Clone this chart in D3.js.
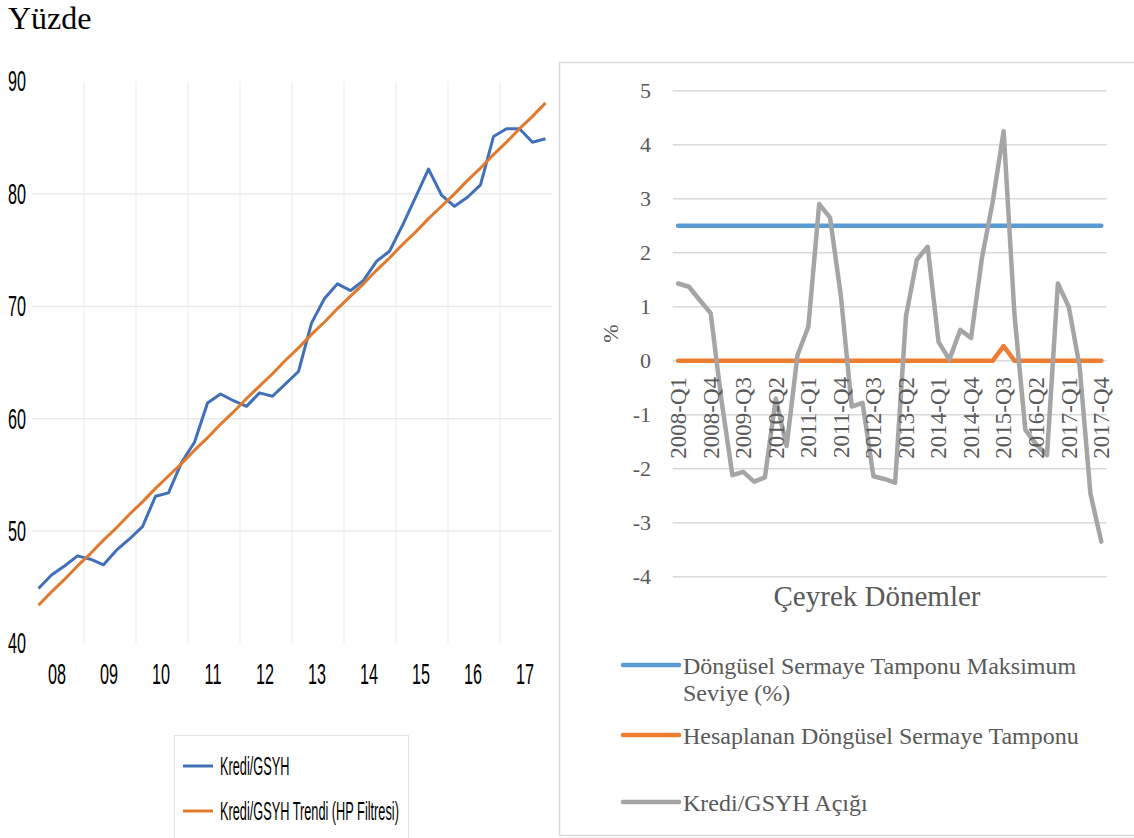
<!DOCTYPE html>
<html>
<head>
<meta charset="utf-8">
<script src="https://cdnjs.cloudflare.com/ajax/libs/d3/7.8.5/d3.min.js"></script>
<style>
  body { margin: 0; background: #fff; }
</style>
</head>
<body>
<div id="chart"></div>
<script>
// categories
var years = ["08", "09", "10", "11", "12", "13", "14", "15", "16", "17"];
var quarters = [];
for (var yr = 2008; yr <= 2017; yr++) {
  for (var q = 1; q <= 4; q++) quarters.push(yr + "-Q" + q);
}

// left panel series
var krediGsyh = [44.9, 46.1, 46.9, 47.8, 47.5, 47.0, 48.3, 49.3, 50.4, 53.1,
  53.4, 56.1, 57.9, 61.4, 62.2, 61.6, 61.1, 62.3, 62.0, 63.1,
  64.2, 68.5, 70.7, 72.0, 71.4, 72.3, 74.0, 74.9, 77.2, 79.7,
  82.2, 79.9, 78.9, 79.7, 80.8, 85.1, 85.8, 85.8, 84.6, 84.9];
var krediTrend = [43.4, 44.6, 45.7, 46.9, 48.0, 49.2, 50.3, 51.5, 52.6, 53.8,
  54.9, 56.0, 57.2, 58.3, 59.5, 60.6, 61.8, 62.9, 64.0, 65.2,
  66.3, 67.5, 68.6, 69.8, 70.9, 72.0, 73.2, 74.3, 75.5, 76.6,
  77.8, 78.9, 80.0, 81.2, 82.3, 83.5, 84.6, 85.8, 86.9, 88.1];
var leftTicks = [40, 50, 60, 70, 80, 90];
var leftGrid = [50, 60, 70, 80];

// right panel series
var tamponMax = [2.5, 2.5, 2.5, 2.5, 2.5, 2.5, 2.5, 2.5, 2.5, 2.5,
  2.5, 2.5, 2.5, 2.5, 2.5, 2.5, 2.5, 2.5, 2.5, 2.5,
  2.5, 2.5, 2.5, 2.5, 2.5, 2.5, 2.5, 2.5, 2.5, 2.5,
  2.5, 2.5, 2.5, 2.5, 2.5, 2.5, 2.5, 2.5, 2.5, 2.5];
var tamponHesap = [0, 0, 0, 0, 0, 0, 0, 0, 0, 0,
  0, 0, 0, 0, 0, 0, 0, 0, 0, 0,
  0, 0, 0, 0, 0, 0, 0, 0, 0, 0,
  0.27, 0, 0, 0, 0, 0, 0, 0, 0, 0];
var krediAcik = [1.43, 1.37, 1.12, 0.88, -0.74, -2.12, -2.06, -2.24, -2.16, -0.70,
  -1.58, 0.10, 0.63, 2.90, 2.65, 1.20, -0.85, -0.78, -2.14, -2.19,
  -2.26, 0.82, 1.87, 2.11, 0.35, 0.02, 0.57, 0.42, 1.90, 2.95,
  4.25, 0.85, -1.28, -1.55, -1.75, 1.43, 1.00, -0.10, -2.46, -3.35];
var rightTicks = [-4, -3, -2, -1, 0, 1, 2, 3, 4, 5];

var W = 1134, H = 838;

var svg = d3.select("#chart")
  .append("svg")
  .attr("width", W)
  .attr("height", H)
  .style("display", "block");

// title
svg.append("text")
  .attr("x", 8)
  .attr("y", 29)
  .text("Yüzde")
  .style("font-family", "Liberation Serif")
  .style("font-size", "32px")
  .attr("fill", "#000");

// ---------- left panel ----------
// condensed look: regular sans squeezed horizontally
var sans = "Liberation Sans";
var squeeze = 0.54;

var xL = d3.scaleBand()
  .domain(quarters)
  .range([32, 552]);

var yL = d3.scaleLinear()
  .domain([40, 90])
  .range([643.5, 81.5]);

// horizontal grid
svg.append("g").selectAll("line")
  .data(leftGrid)
  .enter().append("line")
  .attr("x1", 32)
  .attr("x2", 552)
  .attr("y1", function(d) { return yL(d); })
  .attr("y2", function(d) { return yL(d); })
  .attr("stroke", "#e6e6e6")
  .attr("stroke-width", 1.2);

// vertical grid between years
svg.append("g").selectAll("line")
  .data(years.slice(1))
  .enter().append("line")
  .attr("x1", function(d, i) { return xL(quarters[(i + 1) * 4]); })
  .attr("x2", function(d, i) { return xL(quarters[(i + 1) * 4]); })
  .attr("y1", yL(90))
  .attr("y2", yL(40))
  .attr("stroke", "#ececec")
  .attr("stroke-width", 1);

// y labels
svg.append("g").selectAll("text")
  .data(leftTicks)
  .enter().append("text")
  .attr("transform", function(d) { return "translate(26," + (yL(d) - 1) + ") scale(" + squeeze + ",1)"; })
  .attr("text-anchor", "end")
  .attr("dy", "0.36em")
  .text(function(d) { return d; })
  .style("font-family", sans)
  .style("font-size", "30px")
  .attr("fill", "#000");

// x labels (years)
svg.append("g").selectAll("text")
  .data(years)
  .enter().append("text")
  .attr("transform", function(d, i) {
    return "translate(" + (xL(quarters[i * 4]) + 2 * xL.bandwidth() - 1) + ",673) scale(" + squeeze + ",1)";
  })
  .attr("text-anchor", "middle")
  .attr("dy", "0.36em")
  .text(function(d) { return d; })
  .style("font-family", sans)
  .style("font-size", "30px")
  .attr("fill", "#000");

var lineL = function(vals) {
  return d3.line()
    .x(function(d, i) { return xL(quarters[i]) + xL.bandwidth() / 2; })
    .y(function(d) { return yL(d); })(vals);
};

svg.append("path")
  .attr("d", lineL(krediGsyh))
  .attr("fill", "none")
  .attr("stroke", "#4170B8")
  .attr("stroke-width", 3)
  .attr("stroke-linejoin", "round");

svg.append("path")
  .attr("d", lineL(krediTrend))
  .attr("fill", "none")
  .attr("stroke", "#E07A2E")
  .attr("stroke-width", 3)
  .attr("stroke-linejoin", "round");

// left legend
svg.append("rect")
  .attr("x", 174.5)
  .attr("y", 735.5)
  .attr("width", 234)
  .attr("height", 120)
  .attr("fill", "#fff")
  .attr("stroke", "#e3e3e3")
  .attr("stroke-width", 1);

var legL = [
  {name: "Kredi/GSYH", color: "#4170B8", y: 766},
  {name: "Kredi/GSYH Trendi (HP Filtresi)", color: "#E07A2E", y: 811}
];
legL.forEach(function(d) {
  svg.append("line")
    .attr("x1", 183).attr("x2", 213)
    .attr("y1", d.y).attr("y2", d.y)
    .attr("stroke", d.color)
    .attr("stroke-width", 3);
  svg.append("text")
    .attr("transform", "translate(220," + d.y + ") scale(0.51,1)")
    .attr("dy", "0.36em")
    .text(d.name)
    .style("font-family", sans)
    .style("font-size", "25px")
    .attr("fill", "#000");
});

// ---------- right panel ----------
var serif = "Liberation Serif";
var grey = "#595959";

svg.append("rect")
  .attr("x", 559.5)
  .attr("y", 62.5)
  .attr("width", 600)
  .attr("height", 773)
  .attr("fill", "#fff")
  .attr("stroke", "#d9d9d9")
  .attr("stroke-width", 1.5);

var xR = d3.scaleBand()
  .domain(quarters)
  .range([672.7, 1106.7]);

var yR = d3.scaleLinear()
  .domain([-4, 5])
  .range([576.7, 90.7]);

svg.append("g").selectAll("line")
  .data(rightTicks)
  .enter().append("line")
  .attr("x1", 672.7)
  .attr("x2", 1106.7)
  .attr("y1", function(d) { return yR(d); })
  .attr("y2", function(d) { return yR(d); })
  .attr("stroke", "#d9d9d9")
  .attr("stroke-width", 1.5);

svg.append("g").selectAll("text")
  .data(rightTicks)
  .enter().append("text")
  .attr("x", 651)
  .attr("y", function(d) { return yR(d); })
  .attr("dy", "0.33em")
  .attr("text-anchor", "end")
  .text(function(d) { return d; })
  .style("font-family", serif)
  .style("font-size", "22px")
  .attr("fill", grey);

// y title
svg.append("text")
  .attr("transform", "translate(618," + yR(0.5) + ") rotate(-90)")
  .attr("text-anchor", "middle")
  .text("%")
  .style("font-family", serif)
  .style("font-size", "22px")
  .attr("fill", grey);

var lineR = function(vals) {
  return d3.line()
    .x(function(d, i) { return xR(quarters[i]) + xR.bandwidth() / 2; })
    .y(function(d) { return yR(d); })(vals);
};

var rightSeries = [
  {name: "Döngüsel Sermaye Tamponu Maksimum", name2: "Seviye (%)", vals: tamponMax, color: "#5B9BD5", y: 665},
  {name: "Hesaplanan Döngüsel Sermaye Tamponu", vals: tamponHesap, color: "#ED7D31", y: 735},
  {name: "Kredi/GSYH Açığı", vals: krediAcik, color: "#A5A5A5", y: 802}
];

rightSeries.forEach(function(s) {
  svg.append("path")
    .attr("d", lineR(s.vals))
    .attr("fill", "none")
    .attr("stroke", s.color)
    .attr("stroke-width", 4.5)
    .attr("stroke-linejoin", "round")
    .attr("stroke-linecap", "round");
});

// x labels every third quarter, on top of lines
svg.append("g").selectAll("text")
  .data(quarters.filter(function(d, i) { return i % 3 === 0; }))
  .enter().append("text")
  .attr("transform", function(d) {
    return "translate(" + (xR(d) + xR.bandwidth() / 2) + ",377) rotate(-90)";
  })
  .attr("text-anchor", "end")
  .attr("dy", "0.34em")
  .text(function(d) { return d; })
  .style("font-family", serif)
  .style("font-size", "23px")
  .attr("fill", grey);

svg.append("text")
  .attr("x", 877)
  .attr("y", 606)
  .attr("text-anchor", "middle")
  .text("Çeyrek Dönemler")
  .style("font-family", serif)
  .style("font-size", "29px")
  .attr("fill", grey);

// right legend
rightSeries.forEach(function(s) {
  svg.append("line")
    .attr("x1", 623).attr("x2", 679)
    .attr("y1", s.y).attr("y2", s.y)
    .attr("stroke", s.color)
    .attr("stroke-width", 4.5)
    .attr("stroke-linecap", "round");
  svg.append("text")
    .attr("x", 683)
    .attr("y", s.y + 9)
    .text(s.name)
    .style("font-family", serif)
    .style("font-size", "24px")
    .attr("fill", grey);
  if (s.name2) {
    svg.append("text")
      .attr("x", 683)
      .attr("y", s.y + 36)
      .text(s.name2)
      .style("font-family", serif)
      .style("font-size", "24px")
      .attr("fill", grey);
  }
});
</script>
</body>
</html>
